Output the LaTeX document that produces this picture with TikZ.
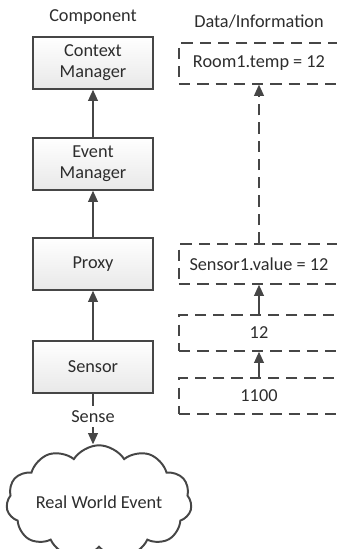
\documentclass[tikz,border=0pt]{standalone}
\usepackage{fontspec}
\setmainfont{Carlito}
\usetikzlibrary{shapes.symbols, arrows.meta, positioning}
\definecolor{linegray}{RGB}{70,70,70}
\definecolor{textgray}{RGB}{45,45,45}
\tikzstyle{arrow} = [line width=1pt, draw=linegray, -{Triangle[length=8pt,width=7pt]}]
\tikzstyle{dasharrow} = [arrow, dash pattern=on 8pt off 5pt]
\tikzstyle{component} = [rectangle, minimum width=3cm, minimum height=1.3cm, align=center, draw=linegray, line width=1pt, top color=white, bottom color=gray!18, text=textgray]
\tikzstyle{datum} = [rectangle, minimum width=4cm, align=center, draw=linegray, line width=1pt, dash pattern=on 8pt off 5pt, text=textgray]
\tikzstyle{event} = [cloud, cloud puffs=11, cloud puff arc=115, aspect=2, minimum width=3.05cm, minimum height=1.5cm, inner sep=0pt, draw=linegray, line width=1.4pt, text=textgray]

\begin{document}
\begin{tikzpicture}[x=0.025cm, y=-0.025cm, font=\fontsize{13}{15}\selectfont]

\useasboundingbox (0,0) rectangle (337,549);

\node(comp)[text=textgray] at (93,17) {Component};
\node(info)[text=textgray] at (259,22) {Data/Information};

\node(ctx)[component] at (93,63) {Context\\Manager};
\node(evm)[component] at (93,164) {Event\\Manager};
\node(prx)[component] at (93,264) {Proxy};
\node(sen)[component] at (93,367) {Sensor};
\node(rwe)[event] at (99,502) {Real World Event};

\node(room)[datum, minimum height=1.02cm] at (259,63.5) {Room1.temp = 12};
\node(sval)[datum, minimum height=1.0cm] at (259,264) {Sensor1.value = 12};
\node(raw)[datum, minimum height=0.9cm] at (259,333) {12};
\node(adc)[datum, minimum height=0.9cm] at (259,396) {1100};

\draw [arrow] (sen) -- (prx);
\draw [arrow] (prx) -- (evm);
\draw [arrow] (evm) -- (ctx);
\draw [arrow] (sen) -- node (sense) [fill=white, text=textgray, pos=0.45] {Sense} (sen |- rwe.north);

\draw [arrow] (adc) -- (raw);
\draw [arrow] (raw) -- (sval);
\draw [dasharrow] (sval) -- (room);

\end{tikzpicture}
\end{document}
